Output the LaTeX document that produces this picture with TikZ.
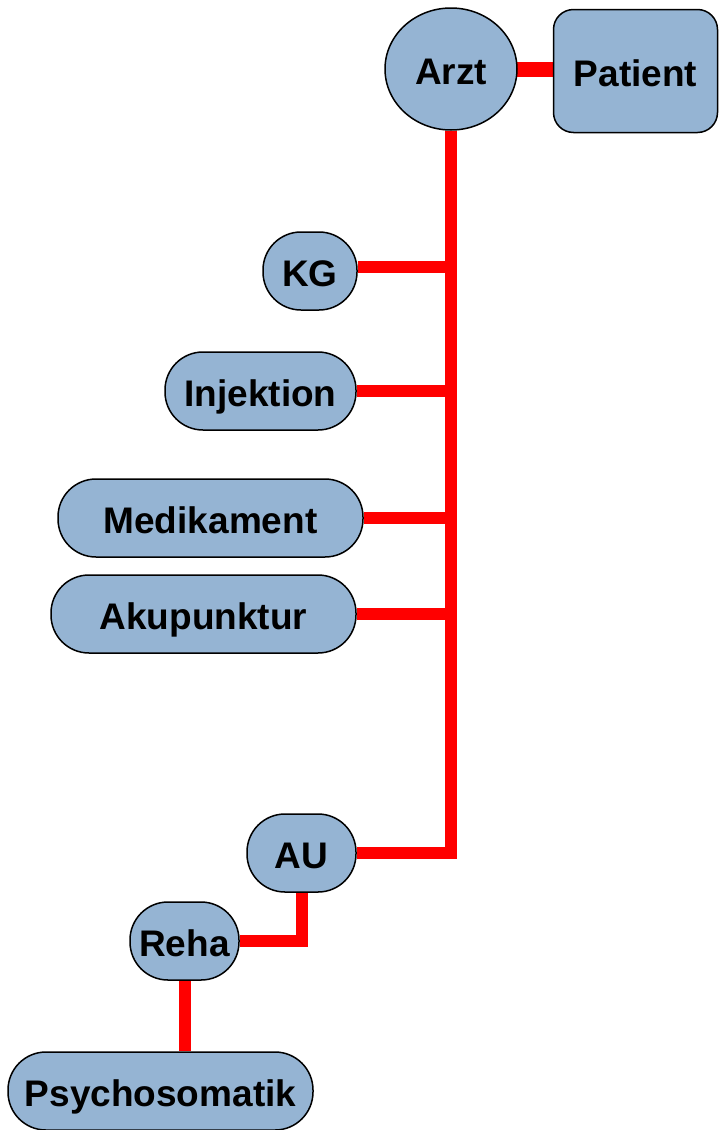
\documentclass[tikz,border=0pt]{standalone}
\usepackage{fontspec}
\setmainfont{Liberation Sans}
\usetikzlibrary{shapes.geometric,backgrounds}
\definecolor{boxfill}{RGB}{149,180,211}
\definecolor{linkred}{RGB}{255,0,0}
\tikzset{
  box/.style={draw=black, line width=1.5pt, fill=boxfill, rectangle, inner sep=0pt,
    text height=30pt, text depth=0pt,
    font=\fontsize{37}{44}\selectfont\bfseries},
  pill/.style={box, rounded corners=38pt, minimum height=78pt},
  link/.style={draw=linkred, line width=12pt},
}
\begin{document}
\begin{tikzpicture}[x=1pt,y=-1pt]
\useasboundingbox (0,0) rectangle (718,1130);
\node[box, ellipse, minimum width=132pt, minimum height=122pt] (arzt) at (451,69) {Arzt};
\node[box, rounded corners=20pt, minimum width=164pt, minimum height=123pt] (patient) at (635.5,71) {Patient};
\node[pill, minimum width=94pt] (kg) at (310,271) {KG};
\node[pill, minimum width=191pt] (inj) at (260.5,391) {Injektion};
\node[pill, minimum width=305pt] (med) at (210.5,518) {Medikament};
\node[pill, minimum width=305pt] (aku) at (203.5,614) {Akupunktur};
\node[pill, minimum width=109pt] (au) at (301.5,853) {AU};
\node[pill, minimum width=109pt] (reha) at (184.5,941) {Reha};
\node[pill, minimum width=305pt] (psy) at (160.5,1091) {Psychosomatik};
\begin{pgfonlayer}{background}
\draw[link, line width=15pt, line cap=round] (arzt.east) -- (patient.west |- arzt.east);
\draw[link] (arzt.south) |- (au.east);
\draw[link] (kg.east) ++(0,-4) -- ++(96,0);
\draw[link] (inj.east) -- (inj.east -| arzt.south);
\draw[link] (med.east) -- (med.east -| arzt.south);
\draw[link] (aku.east) -- (aku.east -| arzt.south);
\draw[link] (au.south) |- (reha.east);
\draw[link] (reha.south) -- (reha.south |- psy.north);
\end{pgfonlayer}
\end{tikzpicture}
\end{document}
